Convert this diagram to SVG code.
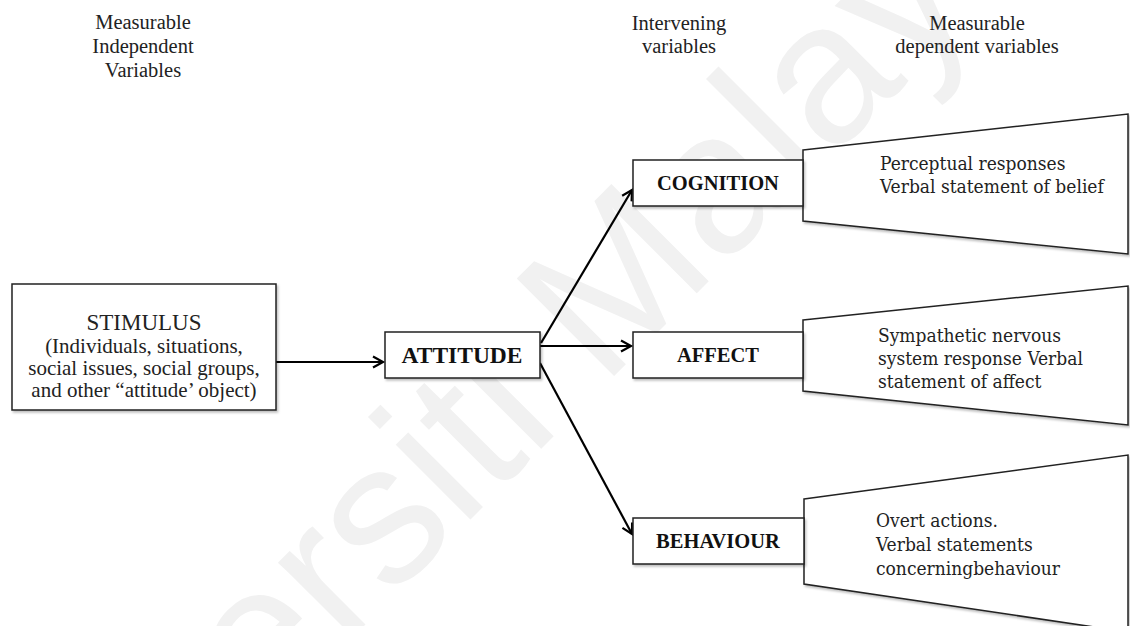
<svg xmlns="http://www.w3.org/2000/svg" width="1130" height="626" viewBox="0 0 1130 626">
<style>
.hdr{font-family:"Liberation Serif","Times New Roman",serif;font-size:20.5px;fill:#222;text-anchor:middle}
.lbl{font-family:"Liberation Serif","Times New Roman",serif;font-weight:bold;font-size:20.5px;fill:#111;text-anchor:middle}
.stim{font-family:"Liberation Serif","Times New Roman",serif;font-size:21px;fill:#222;text-anchor:middle}
.dv{font-family:"DejaVu Serif",serif;font-stretch:condensed;font-size:19px;fill:#222}
.box{fill:#fff;stroke:#222;stroke-width:1.5}
.con{stroke:#000;stroke-width:2.2;fill:none}
.wm{font-family:"Liberation Sans",Arial,sans-serif;font-size:200px;fill:#f1f1f1}
</style>
<defs>
<filter id="sh" x="-5%" y="-5%" width="110%" height="115%">
<feDropShadow dx="1.5" dy="2" stdDeviation="1.2" flood-color="#000" flood-opacity="0.25"/>
</filter>
<marker id="ah" markerWidth="14" markerHeight="14" refX="11" refY="7" orient="auto" markerUnits="userSpaceOnUse">
<path d="M1,1.5 L11,7 L1,12.5" fill="none" stroke="#000" stroke-width="2.2"/>
</marker>
</defs>
<rect width="1130" height="626" fill="#fff"/>
<text class="wm" transform="translate(520,470) rotate(-45)" text-anchor="middle">Universiti Malaya</text>

<g id="headers">
<text class="hdr" x="143" y="29">Measurable</text>
<text class="hdr" x="143" y="53">Independent</text>
<text class="hdr" x="143" y="77">Variables</text>
<text class="hdr" x="679" y="30">Intervening</text>
<text class="hdr" x="679" y="53">variables</text>
<text class="hdr" x="977" y="30">Measurable</text>
<text class="hdr" x="977" y="53">dependent variables</text>
</g>

<g id="connectors">
<line class="con" x1="276" y1="362" x2="383" y2="362" marker-end="url(#ah)"/>
<line class="con" x1="541" y1="343" x2="632" y2="190" marker-end="url(#ah)"/>
<line class="con" x1="540" y1="346" x2="631" y2="346" marker-end="url(#ah)"/>
<line class="con" x1="540" y1="363" x2="632" y2="534" marker-end="url(#ah)"/>
</g>

<g id="stimulus">
<rect class="box" filter="url(#sh)" x="12" y="284" width="264" height="126"/>
<text class="stim" x="144" y="330" style="font-size:23px">STIMULUS</text>
<text class="stim" x="144" y="353">(Individuals, situations,</text>
<text class="stim" x="144" y="375">social issues, social groups,</text>
<text class="stim" x="144" y="397">and other “attitude’ object)</text>
</g>

<g id="attitude">
<rect class="box" filter="url(#sh)" x="385" y="332" width="155" height="46"/>
<text class="lbl" x="462" y="363" style="font-size:23.5px">ATTITUDE</text>
</g>

<g id="cognition">
<polygon class="box" filter="url(#sh)" points="803,150 1128,114 1128,254 803,221"/>
<rect class="box" filter="url(#sh)" x="633" y="160" width="170" height="46"/>
<text class="lbl" x="718" y="190">COGNITION</text>
<text class="dv" x="880" y="170">Perceptual responses</text>
<text class="dv" x="880" y="193">Verbal statement of belief</text>
</g>

<g id="affect">
<polygon class="box" filter="url(#sh)" points="803,320 1128,286 1128,425 803,391"/>
<rect class="box" filter="url(#sh)" x="633" y="332" width="170" height="46"/>
<text class="lbl" x="718" y="362">AFFECT</text>
<text class="dv" x="878" y="342">Sympathetic nervous</text>
<text class="dv" x="878" y="365">system response Verbal</text>
<text class="dv" x="878" y="388">statement of affect</text>
</g>

<g id="behaviour">
<polygon class="box" filter="url(#sh)" points="804,499 1128,455 1128,632 804,584"/>
<rect class="box" filter="url(#sh)" x="633" y="518" width="171" height="46"/>
<text class="lbl" x="718" y="548">BEHAVIOUR</text>
<text class="dv" x="876" y="527">Overt actions.</text>
<text class="dv" x="876" y="551">Verbal statements</text>
<text class="dv" x="876" y="575">concerningbehaviour</text>
</g>
</svg>
